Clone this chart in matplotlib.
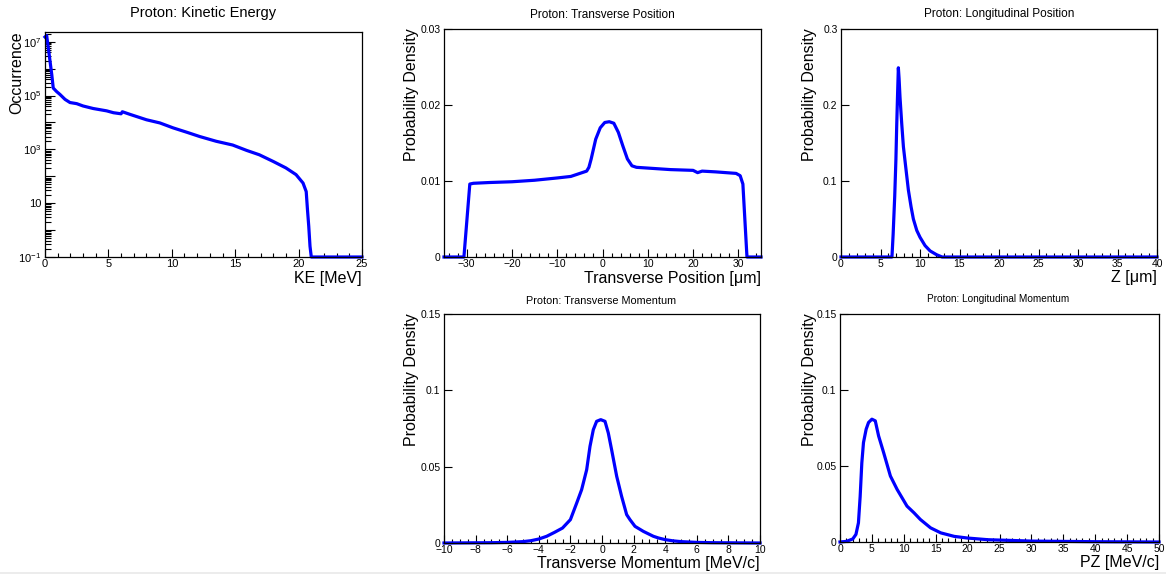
import numpy as np
import matplotlib
matplotlib.use("Agg")
import matplotlib.pyplot as plt
from matplotlib.ticker import FixedLocator, MultipleLocator, NullLocator, FuncFormatter
from matplotlib.patches import Rectangle

plt.rcParams["font.family"] = ["Liberation Sans", "DejaVu Sans"]
plt.rcParams["mathtext.fontset"] = "custom"
plt.rcParams["mathtext.rm"] = "Liberation Sans"
plt.rcParams["mathtext.it"] = "Liberation Sans:italic"

# ---- data -------------------------------------------------------------
ke_mev = [0.0, 0.13, 0.26, 0.39, 0.53, 0.65, 0.92, 1.18, 1.58, 1.97, 2.5, 3.0,
          3.8, 4.86, 5.4, 6.0, 6.1, 6.7, 8.0, 9.06, 10.1, 11.2, 12.2, 13.5,
          14.8, 15.9, 16.9, 18.0, 19.0, 19.8, 20.35, 20.6, 20.7, 20.8, 20.9,
          21.0, 25.0]
ke_counts = [1.5e7, 1.7e7, 6.0e6, 2.0e6, 6.2e5, 1.9e5, 1.4e5, 1.1e5, 7.2e4,
             5.5e4, 5.0e4, 4.1e4, 3.3e4, 2.7e4, 2.3e4, 2.1e4, 2.5e4, 2.0e4,
             1.26e4, 9.6e3, 6.3e3, 4.3e3, 3.0e3, 2.0e3, 1.45e3, 915, 630, 355,
             204, 115, 56, 27, 5.7, 1.4, 0.25, 0, 0]

tpos_um = [-35, -30.6, -29.3, -28.5, -25, -20, -15, -10, -7, -5, -3.5, -3.0,
           -2.5, -1.5, -0.5, 0.5, 1.5, 2.5, 3.5, 4.5, 5.5, 6.5, 7.5, 10, 15,
           20, 21, 22, 25, 29.5, 30.4, 31.0, 31.9, 35]
tpos_density = [0, 0, 0.0096, 0.0097, 0.0098, 0.0099, 0.0101, 0.0104, 0.0106,
                0.0110, 0.0113, 0.0118, 0.0129, 0.0155, 0.0170, 0.0177, 0.0178,
                0.0176, 0.0164, 0.0146, 0.0129, 0.0120, 0.0118, 0.0117, 0.0115,
                0.0114, 0.0111, 0.0113, 0.0112, 0.0110, 0.0107, 0.0096, 0, 0]

lpos_um = [0, 6.45, 6.6, 6.8, 6.95, 7.05, 7.15, 7.26, 7.35, 7.47, 7.69, 7.9,
           8.23, 8.53, 8.87, 9.16, 9.59, 10.0, 10.64, 11.28, 12.1, 12.8, 40]
lpos_density = [0, 0, 0.03, 0.08, 0.128, 0.172, 0.21, 0.249, 0.235, 0.21,
                0.175, 0.145, 0.115, 0.088, 0.066, 0.050, 0.035, 0.026, 0.015,
                0.008, 0.003, 0, 0]

pt_mev = [-10, -7, -6, -5, -4.5, -4.0, -3.5, -3.0, -2.5, -2.0, -1.6, -1.29,
          -0.97, -0.76, -0.55, -0.34, -0.08, 0.19, 0.4, 0.61, 0.93, 1.24, 1.56,
          1.77, 2.09, 2.62, 3.25, 3.57, 4.0, 4.5, 5.0, 6.0, 7.0, 10]
pt_density = [0, 0.0002, 0.0004, 0.0009, 0.0015, 0.0026, 0.0044, 0.007,
              0.0098, 0.0153, 0.0262, 0.0349, 0.048, 0.0633, 0.0742, 0.0797,
              0.0808, 0.0797, 0.072, 0.061, 0.0437, 0.0306, 0.0186, 0.0153,
              0.0109, 0.0076, 0.0044, 0.0033, 0.0022, 0.0014, 0.0009, 0.0004,
              0.0002, 0]

pz_mev = [0, 1.0, 2.0, 2.5, 2.89, 3.16, 3.42, 3.68, 4.1, 4.47, 5.0, 5.53, 6.05,
          6.84, 7.9, 8.95, 10.5, 11.6, 12.6, 14.2, 15.8, 17.9, 20.0, 23.2,
          26.3, 30, 40, 50]
pz_density = [0, 0.0004, 0.002, 0.005, 0.0126, 0.030, 0.052, 0.0654, 0.0742,
              0.0786, 0.0808, 0.0797, 0.0698, 0.0588, 0.0434, 0.0346, 0.0236,
              0.0192, 0.0148, 0.0093, 0.006, 0.0037, 0.0026, 0.0015, 0.0011,
              0.0006, 0.0002, 0]

# ---- figure -----------------------------------------------------------
W, H = 1166, 574
fig = plt.figure(figsize=(W / 100, H / 100), dpi=100)
fig.patch.set_facecolor("white")

LINE = dict(color="#0000ff", lw=2.3, solid_joinstyle="round", clip_on=False)


def rect(l, r, t, b):
    return [l / W, 1 - b / H, (r - l) / W, (b - t) / H]


def style(ax, major_x, minor_x, fs):
    for s in ax.spines.values():
        s.set_linewidth(0.9)
        s.set_color("black")
    ax.xaxis.set_major_locator(MultipleLocator(major_x))
    ax.xaxis.set_minor_locator(MultipleLocator(minor_x))
    ax.tick_params(which="both", direction="in", top=False, right=False,
                   width=0.8, color="black", labelsize=fs)
    ax.tick_params(which="major", length=5.5)
    ax.tick_params(which="minor", length=3)
    ax.tick_params(axis="x", pad=1.5)
    ax.tick_params(axis="y", pad=2.5)
    ax.set_facecolor("white")


def fmt_num(v, _):
    if abs(v) < 1e-12:
        return "0"
    s = ("%g" % v)
    return s.replace("-", "\u2212")


def labels(ax, xl, yl, xly, ylx, fs=11.5):
    ax.set_xlabel(xl, loc="right", fontsize=fs)
    ax.xaxis.set_label_coords(1.0, xly)
    ax.set_ylabel(yl, loc="top", fontsize=fs)
    ax.yaxis.set_label_coords(ylx, 1.005)


def title(x, y, txt, fs):
    fig.text(x / W, 1 - y / H, txt, ha="center", va="center", fontsize=fs)


# Kinetic energy (log scale)
ax1 = fig.add_axes(rect(45, 362, 32, 257))
ymin, ymax = 0.1, 2.3e7
ax1.plot(ke_mev, np.maximum(ke_counts, ymin), **LINE)
ax1.set_yscale("log")
ax1.set_xlim(0, 25)
ax1.set_ylim(ymin, ymax)
style(ax1, 5, 1, 8)
ax1.yaxis.set_major_locator(FixedLocator([10.0 ** e for e in range(-1, 8)]))
ax1.yaxis.set_minor_locator(FixedLocator(
    [m * 10.0 ** e for e in range(-1, 8) for m in range(2, 10)]))


def log_fmt(v, _):
    e = int(round(np.log10(v)))
    if e % 2 == 0:
        return ""
    if e == 1:
        return "10"
    return r"$\mathregular{10^{%s}}$" % (str(e).replace("-", "\u2212"))


ax1.yaxis.set_major_formatter(FuncFormatter(log_fmt))
ax1.xaxis.set_major_formatter(FuncFormatter(fmt_num))
ax1.tick_params(axis="y", which="major", length=7)
ax1.tick_params(axis="y", which="minor", length=4)
labels(ax1, "KE [MeV]", "Occurrence", -0.062, -0.065)
title(203, 13, "Proton: Kinetic Energy", 10.5)

# Transverse position
ax2 = fig.add_axes(rect(444, 761, 29, 257))
ax2.plot(tpos_um, tpos_density, **LINE)
ax2.set_xlim(-35, 35)
ax2.set_ylim(0, 0.03)
style(ax2, 10, 2, 7.5)
ax2.yaxis.set_major_locator(MultipleLocator(0.01))
ax2.yaxis.set_minor_locator(NullLocator())
ax2.xaxis.set_major_formatter(FuncFormatter(fmt_num))
ax2.yaxis.set_major_formatter(FuncFormatter(fmt_num))
labels(ax2, "Transverse Position [\u03bcm]", "Probability Density", -0.062, -0.078)
title(602, 15, "Proton: Transverse Position", 8.5)

# Longitudinal position
ax3 = fig.add_axes(rect(841, 1157, 29, 257))
ax3.plot(lpos_um, lpos_density, **LINE)
ax3.set_xlim(0, 40)
ax3.set_ylim(0, 0.3)
style(ax3, 5, 1, 7.5)
ax3.yaxis.set_major_locator(MultipleLocator(0.1))
ax3.yaxis.set_minor_locator(NullLocator())
ax3.xaxis.set_major_formatter(FuncFormatter(fmt_num))
ax3.yaxis.set_major_formatter(FuncFormatter(fmt_num))
labels(ax3, "Z [\u03bcm]", "Probability Density", -0.058, -0.075)
title(999, 14, "Proton: Longitudinal Position", 8.5)

# Transverse momentum
ax4 = fig.add_axes(rect(444, 760, 314, 543))
ax4.plot(pt_mev, pt_density, **LINE)
ax4.set_xlim(-10, 10)
ax4.set_ylim(0, 0.15)
style(ax4, 2, 0.5, 7.5)
ax4.yaxis.set_major_locator(MultipleLocator(0.05))
ax4.yaxis.set_minor_locator(NullLocator())
ax4.xaxis.set_major_formatter(FuncFormatter(fmt_num))
ax4.yaxis.set_major_formatter(FuncFormatter(fmt_num))
labels(ax4, "Transverse Momentum [MeV/c]", "Probability Density", -0.056, -0.078)
title(601, 301, "Proton: Transverse Momentum", 7.8)

# Longitudinal momentum
ax5 = fig.add_axes(rect(840, 1159, 314, 542))
ax5.plot(pz_mev, pz_density, **LINE)
ax5.set_xlim(0, 50)
ax5.set_ylim(0, 0.15)
style(ax5, 5, 1, 7.5)
ax5.yaxis.set_major_locator(MultipleLocator(0.05))
ax5.yaxis.set_minor_locator(NullLocator())
ax5.xaxis.set_major_formatter(FuncFormatter(fmt_num))
ax5.yaxis.set_major_formatter(FuncFormatter(fmt_num))
labels(ax5, "PZ [MeV/c]", "Probability Density", -0.056, -0.071)
title(998, 299, "Proton: Longitudinal Momentum", 7.2)

# thin grey strip along the bottom edge
fig.add_artist(Rectangle((0, 0), 1, 2.5 / H, transform=fig.transFigure,
                         facecolor="#ececec", edgecolor="none"))

fig.savefig("out.png", dpi=100, facecolor="white")
